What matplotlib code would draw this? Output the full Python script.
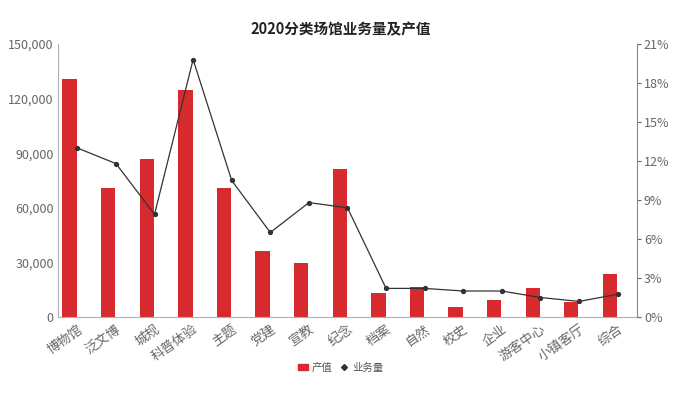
import matplotlib
matplotlib.use("Agg")
import matplotlib.pyplot as plt
from matplotlib.ticker import FuncFormatter, FixedLocator
from matplotlib.lines import Line2D
from matplotlib.patches import Patch

plt.rcParams['font.family'] = ['Noto Sans CJK SC', 'DejaVu Sans']

categories = ['博物馆', '泛文博', '城规', '科普体验', '主题', '党建', '宣教', '纪念',
              '档案', '自然', '校史', '企业', '游客中心', '小镇客厅', '综合']
output_value = [130800, 70900, 86800, 124700, 70900, 36300, 29700, 81300,
                13200, 16700, 5700, 9300, 16100, 8400, 23500]
business_pct = [13.0, 11.8, 7.9, 19.8, 10.5, 6.5, 8.8, 8.4,
                2.2, 2.2, 2.0, 2.0, 1.5, 1.2, 1.75]
left_ticks = [0, 30000, 60000, 90000, 120000, 150000]
right_ticks = [0, 3, 6, 9, 12, 15, 18, 21]

title = '2020分类场馆业务量及产值'
bar_color = '#d62a2f'
line_color = '#333333'
tick_color = '#666666'
axis_color = '#b0b0b0'

fig = plt.figure(figsize=(6.95, 3.94), dpi=100)
ax = fig.add_axes([0.0835, 0.1954, 0.833, 0.693])
x = list(range(len(categories)))
bar_x = [i - 0.2 for i in x]
ax.bar(bar_x, output_value, width=0.37, color=bar_color, zorder=2)
ax.set_xlim(-0.5, len(categories) - 0.5)
ax.set_ylim(0, 150000)
ax.yaxis.set_major_locator(FixedLocator(left_ticks))
ax.yaxis.set_major_formatter(FuncFormatter(lambda v, p: f'{int(v):,}'))
ax.set_xticks(x)
ax.set_xticklabels(categories, rotation=35, ha='right', rotation_mode='anchor')
for s in ['top', 'right']:
    ax.spines[s].set_visible(False)
for s in ['left', 'bottom']:
    ax.spines[s].set_color(axis_color)
    ax.spines[s].set_linewidth(0.8)
ax.tick_params(axis='y', colors=tick_color, labelsize=9, length=0, pad=3)
ax.tick_params(axis='x', colors=tick_color, labelsize=9.5, length=0, pad=4)
for lab in ax.get_yticklabels() + ax.get_xticklabels():
    lab.set_color(tick_color)

ax2 = ax.twinx()
ax2.plot(x, business_pct, color=line_color, linewidth=0.9, marker='o', markersize=2.8, zorder=3)
ax2.set_ylim(0, 21)
ax2.yaxis.set_major_locator(FixedLocator(right_ticks))
ax2.yaxis.set_major_formatter(FuncFormatter(lambda v, p: f'{int(v)}%'))
for s in ['top', 'left', 'bottom']:
    ax2.spines[s].set_visible(False)
ax2.spines['right'].set_color('#888888')
ax2.spines['right'].set_linewidth(0.8)
ax2.tick_params(axis='y', colors=tick_color, labelsize=9, length=3, pad=2)

fig.text(0.49, 0.925, title, ha='center', va='center', fontsize=10.5, fontweight='bold', color='#222222')

handles = [Patch(facecolor=bar_color, edgecolor=bar_color),
           Line2D([0], [0], color=line_color, marker='D', markersize=3, linewidth=0)]
fig.legend(handles, ['产值', '业务量'], loc='center', bbox_to_anchor=(0.49, 0.067), ncol=2,
           frameon=False, fontsize=7.5, handlelength=1.0, handleheight=0.6, columnspacing=0.6,
           handletextpad=0.3, labelcolor='#555555')

fig.savefig('out.png', dpi=100)
